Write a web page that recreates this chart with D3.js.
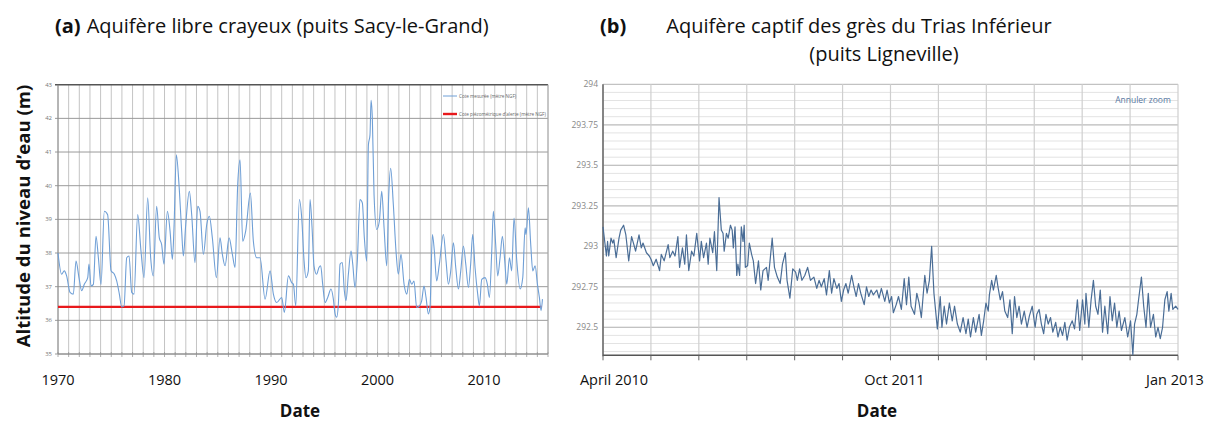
<!DOCTYPE html>
<html><head><meta charset="utf-8">
<script src="https://cdn.jsdelivr.net/npm/d3@7"></script>
<style>html,body{margin:0;padding:0;background:#fff;}svg{display:block;}</style>
</head><body>
<svg id="chart" width="1208" height="421"></svg>
<script>
// ---------- Panel (a): Sacy-le-Grand ----------
const yearsA = [1970.0,1970.34,1970.59,1970.81,1971.13,1971.44,1971.69,1971.97,1972.22,1972.47,1972.79,1972.91,1973.10,1973.32,1973.57,1973.79,1974.04,1974.35,1974.66,1974.98,1975.29,1975.51,1975.76,1975.98,1976.20,1976.45,1976.67,1976.92,1977.14,1977.48,1977.79,1978.08,1978.42,1978.70,1978.95,1979.26,1979.51,1979.73,1979.95,1980.27,1980.52,1980.74,1980.89,1981.11,1981.36,1981.61,1981.77,1981.99,1982.33,1982.55,1982.86,1983.11,1983.33,1983.65,1983.96,1984.21,1984.49,1984.87,1985.21,1985.43,1985.68,1986.06,1986.37,1986.62,1986.87,1987.09,1987.34,1987.62,1988.06,1988.34,1988.65,1988.97,1989.44,1989.91,1990.22,1990.53,1991.00,1991.25,1991.63,1991.94,1992.10,1992.32,1992.66,1992.88,1993.10,1993.28,1993.50,1993.66,1993.85,1994.03,1994.28,1994.50,1994.66,1994.85,1995.07,1995.32,1995.63,1995.85,1996.01,1996.16,1996.32,1996.48,1996.69,1996.88,1997.04,1997.26,1997.51,1997.67,1997.88,1998.10,1998.35,1998.57,1998.76,1998.98,1999.14,1999.29,1999.39,1999.51,1999.67,1999.92,2000.17,2000.39,2000.61,2000.86,2001.05,2001.23,2001.48,2001.73,2001.95,2002.20,2002.49,2002.74,2002.99,2003.21,2003.42,2003.67,2003.93,2004.14,2004.36,2004.55,2004.77,2004.93,2005.15,2005.33,2005.55,2005.80,2006.18,2006.43,2006.65,2006.87,2007.12,2007.34,2007.59,2007.81,2008.06,2008.28,2008.53,2008.74,2008.93,2009.15,2009.40,2009.56,2009.78,2010.09,2010.31,2010.50,2010.72,2010.87,2011.09,2011.28,2011.50,2011.72,2011.94,2012.13,2012.38,2012.59,2012.81,2013.07,2013.38,2013.63,2013.85,2013.94,2014.16,2014.38,2014.57,2014.79,2015.01,2015.19,2015.35,2015.48];
const levelA = [38.0,37.37,37.47,37.32,36.83,36.78,37.76,37.27,36.88,37.07,37.27,37.67,37.02,37.07,38.50,37.86,37.07,39.24,39.14,37.47,37.37,37.17,36.78,36.40,36.43,37.86,37.91,36.83,36.78,39.14,38.06,37.27,39.64,37.86,37.32,39.39,38.45,38.25,37.67,39.24,38.65,37.81,38.75,40.92,40.03,38.65,37.91,38.84,39.83,39.14,37.71,39.39,39.24,37.96,38.84,39.09,38.45,37.27,38.45,37.96,37.62,38.45,37.96,37.57,40.03,40.77,38.35,38.65,39.78,38.35,37.86,37.86,36.63,37.47,36.78,36.53,36.68,36.24,37.32,37.12,37.07,36.43,39.59,39.04,37.76,37.27,37.47,39.59,38.75,37.62,37.37,37.57,37.62,37.07,36.53,36.68,36.93,36.63,36.19,36.09,36.48,37.67,37.72,36.88,36.58,37.37,38.06,37.67,36.98,37.76,39.59,39.49,38.45,37.76,41.21,41.51,42.54,42.00,39.73,38.70,38.95,39.83,38.75,37.62,39.73,40.52,39.44,38.06,37.37,37.96,37.07,36.78,37.22,37.07,37.17,36.38,36.43,36.58,37.02,36.68,36.19,36.43,38.55,38.06,37.17,37.67,38.55,37.76,37.07,37.47,38.30,37.57,36.93,37.47,38.21,37.67,36.98,37.67,38.55,37.57,36.78,36.43,37.22,37.27,37.07,36.68,38.06,39.24,38.25,37.32,37.86,38.50,37.76,37.07,37.86,37.47,39.04,37.76,36.93,37.27,38.75,38.55,39.34,38.25,37.47,37.62,37.07,36.68,36.29,36.63];
const alertLevelA = 36.4;
const alertSpanA = [1970, 2015.4];
const yTicksA = [35,36,37,38,39,40,41,42,43];
const xLabelsA = [1970,1980,1990,2000,2010];
const legendA = ["Cote mesurée (mètre NGF)", "Cote piézométrique d'alerte (mètre NGF)"];

// ---------- Panel (b): Ligneville ----------
const daysB = [0,6,8,10,14,17,19,23,28,31,36,40,45,50,54,57,63,67,70,76,81,84,88,93,99,102,107,114,117,122,126,131,134,139,143,146,150,155,159,164,169,172,176,181,184,187,192,195,199,203,207,210,212,216,219,223,226,228,231,234,236,239,242,245,247,249,253,256,260,263,267,272,276,280,286,289,296,300,305,310,314,319,322,327,332,337,340,344,348,353,358,363,369,374,378,382,387,391,396,400,404,409,413,417,421,425,429,435,439,443,447,451,457,461,465,469,473,479,483,487,493,497,501,505,508,513,517,522,527,531,535,539,545,549,553,557,563,567,571,575,579,585,590,593,597,601,606,611,615,620,625,630,635,639,643,648,652,658,662,666,670,674,676,680,683,688,691,695,699,703,708,712,716,720,724,728,732,737,742,746,751,756,759,763,767,771,775,779,783,787,792,796,800,804,808,812,816,821,825,830,834,839,843,845,850,854,858,862,866,870,874,878,883,887,891,895,899,903,907,913,918,923,927,930,934,937,942,946,950,954,958,963,967,971,975,979,983,987,990,994,997,1002,1006];
const levelB = [293.12,292.94,293.03,292.94,293.05,293.02,293.04,292.93,293.05,293.10,293.13,293.07,292.91,293.06,293.01,292.97,293.07,292.99,293.02,292.96,292.94,292.92,292.88,292.92,292.85,292.95,292.91,293.01,292.93,292.97,292.94,293.06,292.87,292.99,292.89,293.07,292.85,292.97,292.94,293.08,292.91,293.03,292.93,293.02,292.89,293.05,292.96,293.09,292.85,293.30,293.10,293.08,292.97,293.08,293.05,293.13,293.10,292.99,293.12,292.82,292.89,292.82,293.12,293.03,293.13,292.87,292.88,293.02,292.95,292.91,292.77,292.91,292.73,292.85,292.87,292.79,293.05,292.87,292.81,292.77,292.89,292.96,292.79,292.68,292.86,292.84,292.79,292.86,292.79,292.82,292.87,292.79,292.81,292.74,292.79,292.75,292.80,292.70,292.85,292.71,292.80,292.74,292.77,292.66,292.73,292.77,292.71,292.82,292.75,292.69,292.77,292.71,292.64,292.75,292.69,292.73,292.70,292.73,292.68,292.74,292.66,292.73,292.65,292.69,292.59,292.64,292.69,292.61,292.80,292.64,292.81,292.63,292.58,292.71,292.65,292.56,292.82,292.71,292.79,293.00,292.71,292.49,292.69,292.50,292.63,292.52,292.65,292.54,292.63,292.52,292.47,292.56,292.46,292.55,292.44,292.56,292.47,292.58,292.45,292.54,292.65,292.60,292.70,292.79,292.73,292.82,292.75,292.67,292.72,292.60,292.56,292.67,292.46,292.69,292.56,292.63,292.52,292.60,292.50,292.57,292.63,292.50,292.58,292.61,292.52,292.46,292.58,292.52,292.56,292.47,292.53,292.44,292.50,292.45,292.53,292.42,292.50,292.54,292.49,292.67,292.48,292.67,292.52,292.71,292.50,292.67,292.79,292.63,292.58,292.73,292.47,292.63,292.46,292.69,292.54,292.65,292.50,292.60,292.48,292.56,292.44,292.54,292.33,292.52,292.58,292.67,292.81,292.63,292.50,292.71,292.50,292.58,292.44,292.50,292.43,292.50,292.67,292.72,292.60,292.71,292.61,292.63,292.61];
const startB = new Date(2010, 3, 1);
const endB = new Date(2013, 0, 1);
const yTicksB = [292.5, 292.75, 293, 293.25, 293.5, 293.75, 294];
const xLabelsB = ["April 2010", "Oct 2011", "Jan 2013"];

const svg = d3.select("#chart");
const FONT = "'Open Sans', 'Noto Sans', sans-serif";

// ===== Panel A =====
const xA = d3.scaleLinear().domain([1970, 2016]).range([58, 548]);
const yA = d3.scaleLinear().domain([35, 43]).range([354, 84.7]);
const gA = svg.append("g");

gA.selectAll(".vg").data(d3.range(1970, 2017)).join("line")
  .attr("x1", d => xA(d)).attr("x2", d => xA(d))
  .attr("y1", yA(43)).attr("y2", yA(35))
  .attr("stroke", "#c4c4c4").attr("stroke-width", 1);
gA.selectAll(".vt").data(d3.range(1970, 2017)).join("line")
  .attr("x1", d => xA(d)).attr("x2", d => xA(d))
  .attr("y1", yA(35) - 2).attr("y2", yA(35) + 3)
  .attr("stroke", "#999").attr("stroke-width", 0.8);
gA.selectAll(".hg").data(yTicksA).join("line")
  .attr("x1", xA(1970) - 3).attr("x2", xA(2016))
  .attr("y1", d => yA(d)).attr("y2", d => yA(d))
  .attr("stroke", d => d === 43 ? "#555" : "#9a9a9a").attr("stroke-width", d => d === 43 ? 1.4 : 1);
gA.append("line").attr("x1", xA(1970)).attr("x2", xA(1970)).attr("y1", yA(43)).attr("y2", yA(35)).attr("stroke", "#8a8a8a");
gA.append("line").attr("x1", xA(2016)).attr("x2", xA(2016)).attr("y1", yA(43)).attr("y2", yA(35)).attr("stroke", "#aaa");
gA.append("line").attr("x1", xA(1970)).attr("x2", xA(2016)).attr("y1", yA(35)).attr("y2", yA(35)).attr("stroke", "#8a8a8a");
gA.selectAll(".yl").data(yTicksA).join("text")
  .attr("x", xA(1970) - 6).attr("y", d => yA(d) + 2)
  .attr("text-anchor", "end").attr("font-family", FONT).attr("font-size", 6)
  .attr("fill", "#777").text(d => d);
gA.append("line")
  .attr("x1", xA(alertSpanA[0])).attr("x2", xA(alertSpanA[1]))
  .attr("y1", yA(alertLevelA)).attr("y2", yA(alertLevelA))
  .attr("stroke", "#e8191c").attr("stroke-width", 2.4);
const lineA = d3.line().x((d, i) => xA(yearsA[i])).y(d => yA(d)).curve(d3.curveMonotoneX);
gA.append("path").datum(levelA).attr("d", lineA)
  .attr("fill", "none").attr("stroke", "#6f9fd6").attr("stroke-width", 1.1);
const legColors = ["#6f9fd6", "#e8191c"];
const legW = [1, 2.4];
legendA.forEach((t, i) => {
  const ly = 96 + i * 18;
  gA.append("line").attr("x1", 443).attr("x2", 457).attr("y1", ly).attr("y2", ly)
    .attr("stroke", legColors[i]).attr("stroke-width", legW[i]);
  gA.append("text").attr("x", 459).attr("y", ly + 1.8).attr("font-family", FONT)
    .attr("font-size", 4.6).attr("fill", "#666").text(t);
});
gA.selectAll(".xl").data(xLabelsA).join("text")
  .attr("x", d => xA(d)).attr("y", 385).attr("text-anchor", "middle")
  .attr("font-family", FONT).attr("font-size", 14.5).attr("fill", "#111").text(d => d);
gA.append("text").attr("x", 300).attr("y", 417).attr("text-anchor", "middle")
  .attr("font-family", FONT).attr("font-size", 17).attr("font-weight", "bold").attr("fill", "#111").text("Date");
gA.append("text").attr("transform", "translate(30,216) rotate(-90)").attr("text-anchor", "middle")
  .attr("font-family", FONT).attr("font-size", 18.6).attr("font-weight", "bold").attr("fill", "#111")
  .text("Altitude du niveau d’eau (m)");
const tA = gA.append("text").attr("x", 55).attr("y", 33).attr("font-family", FONT).attr("font-size", 20).attr("fill", "#111");
tA.append("tspan").attr("font-weight", "bold").text("(a)");
tA.append("tspan").attr("dx", 6).text("Aquifère libre crayeux (puits Sacy-le-Grand)");

// ===== Panel B =====
const xB = d3.scaleTime().domain([startB, endB]).range([603, 1178]);
const yB = d3.scaleLinear().domain([292.327, 294]).range([355.3, 84.3]);
const gB = svg.append("g");
const gridIdx = d3.scaleLinear().domain([0, 12]).range(xB.range());

gB.selectAll(".mh").data(d3.range(292.35, 294.0, 0.05)).join("line")
  .attr("x1", xB.range()[0]).attr("x2", xB.range()[1])
  .attr("y1", d => yB(d)).attr("y2", d => yB(d))
  .attr("stroke", "#e3e3e3").attr("stroke-width", 1);
gB.selectAll(".Mh").data(yTicksB).join("line")
  .attr("x1", xB.range()[0]).attr("x2", xB.range()[1])
  .attr("y1", d => yB(d)).attr("y2", d => yB(d))
  .attr("stroke", "#c2c2c2").attr("stroke-width", 1.2);
gB.selectAll(".vg").data(d3.range(0, 13)).join("line")
  .attr("x1", d => gridIdx(d)).attr("x2", d => gridIdx(d))
  .attr("y1", yB(294)).attr("y2", yB(292.327))
  .attr("stroke", "#cfcfcf").attr("stroke-width", 1.2);
gB.append("line").attr("x1", xB.range()[0]).attr("x2", xB.range()[0]).attr("y1", yB(294)).attr("y2", yB(292.327) + 1)
  .attr("stroke", "#666").attr("stroke-width", 1.5);
gB.append("line").attr("x1", xB.range()[0]).attr("x2", xB.range()[1]).attr("y1", yB(292.327)).attr("y2", yB(292.327))
  .attr("stroke", "#555").attr("stroke-width", 1.6);
gB.selectAll(".bt").data(d3.range(0, 13)).join("line")
  .attr("x1", d => gridIdx(d)).attr("x2", d => gridIdx(d))
  .attr("y1", yB(292.327)).attr("y2", yB(292.327) + 5)
  .attr("stroke", "#666").attr("stroke-width", 1);
gB.selectAll(".yl").data(yTicksB).join("text")
  .attr("x", 598).attr("y", d => yB(d) + 3)
  .attr("text-anchor", "end").attr("font-family", FONT).attr("font-size", 8.5)
  .attr("fill", "#888").text(d => d3.format("")(d));
const lineB = d3.line().x((d, i) => xB(d3.timeDay.offset(startB, daysB[i]))).y(d => yB(d));
gB.append("path").datum(levelB).attr("d", lineB)
  .attr("fill", "none").attr("stroke", "#4a6d96").attr("stroke-width", 1.2).attr("stroke-linejoin", "round");
gB.append("text").attr("x", 1143).attr("y", 103).attr("text-anchor", "middle")
  .attr("font-family", FONT).attr("font-size", 8.5).attr("fill", "#5a7aa3").text("Annuler zoom");
const xLab = d3.scalePoint().domain(xLabelsB).range([614, 1175]);
gB.selectAll(".xl").data(xLabelsB).join("text")
  .attr("x", d => xLab(d)).attr("y", 385).attr("text-anchor", "middle")
  .attr("font-family", FONT).attr("font-size", 14.5).attr("fill", "#111").text(d => d);
gB.append("text").attr("x", 877).attr("y", 417).attr("text-anchor", "middle")
  .attr("font-family", FONT).attr("font-size", 17).attr("font-weight", "bold").attr("fill", "#111").text("Date");
gB.append("text").attr("x", 600).attr("y", 33).attr("font-family", FONT).attr("font-size", 20)
  .attr("font-weight", "bold").attr("fill", "#111").text("(b)");
gB.append("text").attr("x", 859).attr("y", 33).attr("text-anchor", "middle").attr("font-family", FONT)
  .attr("font-size", 20).attr("fill", "#111").text("Aquifère captif des grès du Trias Inférieur");
gB.append("text").attr("x", 884).attr("y", 61).attr("text-anchor", "middle").attr("font-family", FONT)
  .attr("font-size", 20).attr("fill", "#111").text("(puits Ligneville)");
</script>
</body></html>
